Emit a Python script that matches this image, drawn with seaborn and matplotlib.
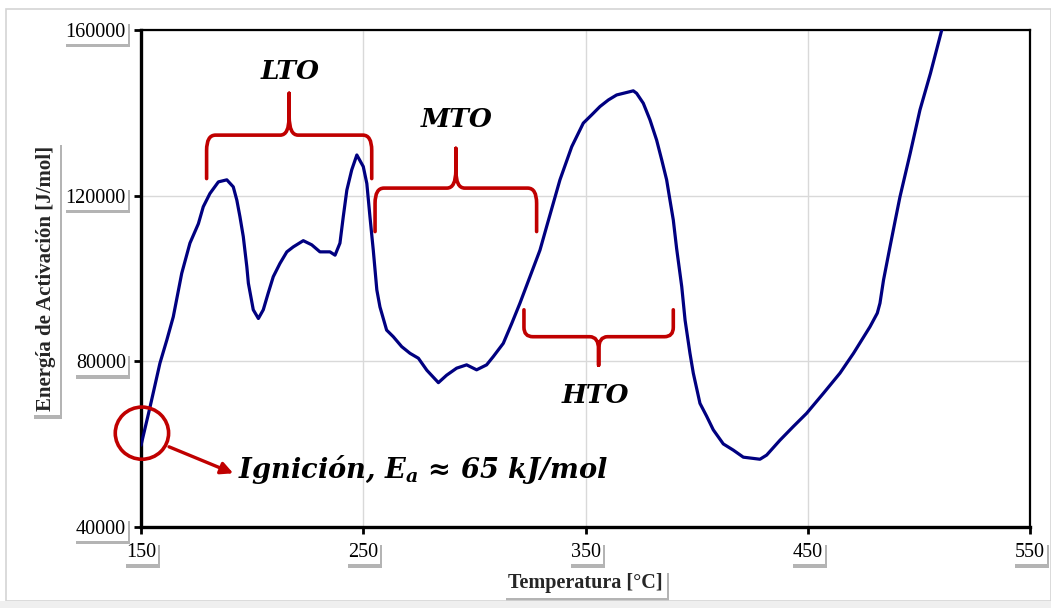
import matplotlib
matplotlib.use("Agg")
import matplotlib.pyplot as plt
import matplotlib.patheffects as pe
from matplotlib.path import Path
from matplotlib.patches import PathPatch, Ellipse, Rectangle, FancyArrowPatch
import pandas as pd
import seaborn as sns

# Activation energy vs temperature
temperatura = [150.0, 154.0, 158.5, 161.6, 164.5, 168.3, 172.0, 175.8, 178.0, 181.0,
               184.8, 188.6, 191.5, 193.1, 194.5, 196.0, 197.6, 198.3, 200.5, 202.8,
               205.0, 207.2, 209.5, 212.5, 215.6, 218.5, 223.0, 226.8, 230.5, 235.0,
               237.3, 239.5, 241.0, 242.6, 244.8, 247.1, 250.0, 251.6, 253.0, 254.5,
               256.1, 257.5, 260.5, 263.5, 267.3, 271.0, 274.8, 278.6, 283.8, 287.5,
               292.0, 296.5, 301.0, 305.5, 308.5, 313.0, 316.8, 320.5, 325.0, 329.5,
               332.5, 338.5, 343.8, 349.0, 352.8, 356.5, 360.3, 364.0, 368.5, 371.5,
               373.0, 376.0, 379.0, 382.0, 384.3, 386.5, 388.0, 389.5, 391.0, 393.3,
               394.8, 397.0, 398.5, 401.5, 404.5, 407.5, 412.0, 416.5, 421.0, 425.5,
               428.5, 431.5, 437.5, 443.5, 449.5, 457.0, 464.5, 470.6, 478.0, 481.3,
               482.5, 484.1, 487.0, 489.4, 491.5, 496.1, 500.5, 505.2, 510.3]
energia = [59700, 68800, 79500, 85100, 90700, 101200, 108500, 113200, 117300, 120500,
           123300, 123800, 122100, 118900, 114900, 110100, 102800, 98800, 92400, 90300,
           92400, 96400, 100400, 103600, 106400, 107600, 109100, 108100, 106400, 106400,
           105600, 108500, 114900, 121300, 126200, 129800, 127000, 122900, 114900, 106800,
           97200, 93100, 87500, 85900, 83500, 81900, 80700, 77800, 74800, 76600,
           78300, 79100, 77900, 79100, 81100, 84300, 89100, 94000, 100400, 106800,
           112500, 123800, 131800, 137500, 139500, 141500, 143100, 144300, 144900, 145300,
           144700, 142300, 138300, 133400, 128600, 123800, 118900, 114100, 107200, 98000,
           89900, 81900, 77100, 69800, 66700, 63400, 60000, 58500, 56800, 56500,
           56300, 57300, 60900, 64200, 67400, 72200, 77100, 81900, 88300, 91600,
           94000, 99600, 107600, 114100, 119700, 130200, 140700, 149500, 160000]

x_ticks = [150, 250, 350, 450, 550]
y_ticks = [40000, 80000, 120000, 160000]
x_label = "Temperatura [°C]"
y_label = "Energía de Activación [J/mol]"

# Oxidation regimes: label, start T, end T, arm end, bar level, tip level
regiones = ["LTO", "MTO", "HTO"]
reg_inicio = [179.5, 255.3, 322.3]
reg_fin = [253.8, 328.0, 389.5]
reg_brazo = [124100, 111300, 92400]
reg_barra = [134600, 121800, 85900]
reg_punta = [144700, 131400, 79000]
reg_texto_x = [217.0, 292.2, 354.3]
reg_texto_y = [150000, 138300, 71800]

ignicion_T = 150.4
ignicion_E = 62600
ignicion_texto = r"Ignición, $\mathit{E}_{\mathit{a}}$ ≈ 65 kJ/mol"

NAVY = "#000080"
RED = "#C00000"

sns.set_theme(style="white")
plt.rcParams["font.family"] = ["Liberation Serif", "DejaVu Serif"]
plt.rcParams["mathtext.fontset"] = "custom"
plt.rcParams["mathtext.it"] = "DejaVu Serif:italic:bold"
plt.rcParams["mathtext.rm"] = "DejaVu Serif:bold"

fig = plt.figure(figsize=(10.51, 6.08), dpi=100)
fig.patch.set_facecolor("white")

# outer frame and bottom band
fig.add_artist(Rectangle((0.006, 0.012), 0.994, 0.973, transform=fig.transFigure,
                         fill=False, edgecolor="#d4d4d4", linewidth=1.2))
fig.add_artist(Rectangle((0.0, 0.0), 1.0, 0.012, transform=fig.transFigure,
                         facecolor="#efefef", edgecolor="none"))

ax = fig.add_axes([0.1342, 0.1337, 0.9800 - 0.1342, 0.9507 - 0.1337])

df = pd.DataFrame({"T": temperatura, "Ea": energia})
sns.lineplot(data=df, x="T", y="Ea", sort=False, estimator=None, color=NAVY,
             linewidth=2.3, ax=ax, zorder=3)
ax.lines[-1].set_solid_joinstyle("round")
ax.lines[-1].set_solid_capstyle("round")

ax.set_xlim(150, 550)
ax.set_ylim(40000, 160000)
ax.set_xticks(x_ticks, labels=[str(v) for v in x_ticks])
ax.set_yticks(y_ticks, labels=[str(v) for v in y_ticks])
ax.grid(True, color="#d9d9d9", linewidth=1.0)
ax.set_axisbelow(True)

for side in ["left", "bottom"]:
    ax.spines[side].set_linewidth(2.4)
    ax.spines[side].set_color("black")
for side in ["top", "right"]:
    ax.spines[side].set_linewidth(1.6)
    ax.spines[side].set_color("black")

ax.tick_params(axis="both", direction="out", length=5, width=2, colors="black",
               labelsize=14.5, left=True, bottom=True)
ax.tick_params(axis="y", pad=6)
ax.tick_params(axis="x", pad=7)

shadow = [pe.withSimplePatchShadow(offset=(1.5, -2.5), shadow_rgbFace="0.35", alpha=0.45)]
box = dict(boxstyle="square,pad=0.1", facecolor="white", edgecolor="none")

for lbl in ax.get_xticklabels() + ax.get_yticklabels():
    lbl.set_bbox(box)
    lbl.get_bbox_patch().set_path_effects(shadow)

xl = ax.set_xlabel(x_label, fontsize=14.5, fontweight="bold", labelpad=8)
yl = ax.set_ylabel(y_label, fontsize=15, fontweight="bold", labelpad=7)
for lbl in (xl, yl):
    lbl.set_bbox(dict(boxstyle="square,pad=0.2", facecolor="white", edgecolor="none"))
    lbl.get_bbox_patch().set_path_effects(shadow)


def llave(x0, x1, y_arm, y_bar, y_tip, dx=4.0):
    """Curly brace path between x0 and x1 opening towards y_arm, tip at y_tip."""
    xm = (x0 + x1) / 2
    arm = y_bar - y_arm
    tip = y_tip - y_bar
    verts = [
        (x0, y_arm), (x0, y_bar - 0.35 * arm),
        (x0, y_bar), (x0 + dx, y_bar),
        (xm - dx, y_bar),
        (xm, y_bar), (xm, y_bar + 0.45 * tip),
        (xm, y_tip),
        (xm, y_tip), (xm, y_bar + 0.45 * tip),
        (xm, y_bar), (xm + dx, y_bar),
        (x1 - dx, y_bar),
        (x1, y_bar), (x1, y_bar - 0.35 * arm),
        (x1, y_arm),
    ]
    codes = [
        Path.MOVETO, Path.LINETO,
        Path.CURVE3, Path.CURVE3,
        Path.LINETO,
        Path.CURVE3, Path.CURVE3,
        Path.LINETO,
        Path.MOVETO, Path.LINETO,
        Path.CURVE3, Path.CURVE3,
        Path.LINETO,
        Path.CURVE3, Path.CURVE3,
        Path.LINETO,
    ]
    return Path(verts, codes)


etiqueta = dict(fontsize=19, fontweight="bold", fontstyle="italic",
                family=["DejaVu Serif"], color="black", ha="center", va="center")

for nombre, x0, x1, ya, yb, yt, tx, ty in zip(regiones, reg_inicio, reg_fin, reg_brazo,
                                             reg_barra, reg_punta, reg_texto_x, reg_texto_y):
    ax.add_patch(PathPatch(llave(x0, x1, ya, yb, yt), fill=False, edgecolor=RED,
                           linewidth=2.6, capstyle="round", joinstyle="round", zorder=4))
    ax.text(tx, ty, nombre, **etiqueta)

# ignition marker
ax.add_patch(Ellipse((ignicion_T, ignicion_E), width=24.0, height=12600, fill=False,
                     edgecolor=RED, linewidth=2.6, clip_on=False, zorder=5))
ax.add_patch(FancyArrowPatch((162.6, 59300), (191.5, 52900), arrowstyle="-|>",
                             mutation_scale=18, color=RED, linewidth=2.4,
                             clip_on=False, zorder=5, shrinkA=0, shrinkB=0))
ax.text(193.8, 53700, ignicion_texto, fontsize=19.6, fontweight="bold", fontstyle="italic",
        family=["DejaVu Serif"], color="black", ha="left", va="center")

fig.savefig("out.png", dpi=100)
